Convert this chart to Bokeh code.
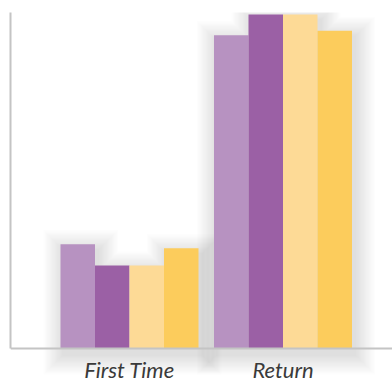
from bokeh.plotting import figure
from bokeh.models import Range1d, FixedTicker, ColumnDataSource, Span
from bokeh.core.properties import value
from bokeh.embed import file_html
from bokeh.resources import INLINE

# Visitor groups and four series per group
categories = ["First Time", "Return"]
series_1 = [31.0, 93.2]
series_2 = [24.7, 99.4]
series_3 = [24.7, 99.4]
series_4 = [29.8, 94.6]
series = [series_1, series_2, series_3, series_4]
colors = ["#b792c1", "#9b60a5", "#fdda96", "#fccc5c"]

W, H = 392, 382
top_pad, left_pad = 12, 10
plot_h = 336          # pixels between the baseline and the top of the value axis
label_band = H - top_pad - plot_h   # room under the baseline for group names
frame_w = W - left_pad

y_ppu = plot_h / 100.0
x_ppu = 153.5
x_start = -(129 - left_pad) / x_ppu
x_end = x_start + frame_w / x_ppu
y_start, y_end = -label_band / y_ppu, 100
bar_w = 34.5 / x_ppu

p = figure(width=W, height=H, output_backend="svg", toolbar_location=None,
           x_range=Range1d(x_start, x_end), y_range=Range1d(y_start, y_end),
           min_border_left=left_pad, min_border_top=top_pad, min_border_right=0,
           min_border_bottom=0)
p.outline_line_color = None
p.xgrid.visible = False
p.ygrid.visible = False
p.xaxis.visible = False
p.background_fill_color = "white"
p.border_fill_color = "white"


def group_outline(ci, grow_px, dx_px, dy_px):
    """Outline of one group's bars, grown by grow_px and shifted (dx, dy) pixels."""
    mx, my = grow_px / x_ppu, grow_px / y_ppu
    sx, sy = dx_px / x_ppu, dy_px / y_ppu
    bars = []
    for si, vals in enumerate(series):
        cx = ci + (si - 1.5) * bar_w
        bars.append((cx - bar_w / 2 - mx + sx, cx + bar_w / 2 + mx + sx, vals[ci] + my - sy))
    edges = sorted({b[0] for b in bars} | {b[1] for b in bars})
    bottom = -my - sy
    xs, ys = [edges[0]], [bottom]
    for a, b in zip(edges[:-1], edges[1:]):
        mid = (a + b) / 2
        h = max(t for l, r, t in bars if l <= mid <= r)
        xs += [a, b]
        ys += [h, h]
    xs.append(edges[-1])
    ys.append(bottom)
    return xs, ys


# soft drop shadow: stacked translucent outlines of each group
n_layers = 16
for k in range(n_layers, 0, -1):
    outlines = [group_outline(ci, k * 1.25, 3, 6) for ci in range(len(categories))]
    p.patches(xs=[o[0] for o in outlines], ys=[o[1] for o in outlines],
              fill_color="#414a55", fill_alpha=0.011, line_color=None)

for si, vals in enumerate(series):
    off = (si - 1.5) * bar_w
    src = ColumnDataSource(dict(x=[i + off for i in range(len(categories))], top=vals))
    p.vbar(x="x", top="top", width=bar_w, bottom=0, source=src,
           fill_color=colors[si], line_color=None)

# value axis: line only, from the baseline up
yax = p.yaxis[0]
yax.bounds = (0, y_end)
yax.axis_line_color = "#c4c4c4"
yax.axis_line_width = 2
yax.major_tick_line_color = None
yax.minor_tick_line_color = None
yax.major_tick_out = 0
yax.major_tick_in = 0
yax.minor_tick_out = 0
yax.ticker = FixedTicker(ticks=[])
yax.major_label_standoff = 0
yax.major_label_text_font_size = "0px"

# baseline across the whole width
p.add_layout(Span(location=0, dimension="width", line_color="#c4c4c4", line_width=2))

# group names under the baseline, centred on each group
p.text(x=list(range(len(categories))), y=[-21 / y_ppu] * len(categories),
       text=categories, text_align="center", text_baseline="alphabetic",
       text_font=value("Lato"), text_font_style="italic", text_font_size="22px",
       text_color="#3a3a3a")

open("out.html", "w").write(file_html(p, INLINE))
